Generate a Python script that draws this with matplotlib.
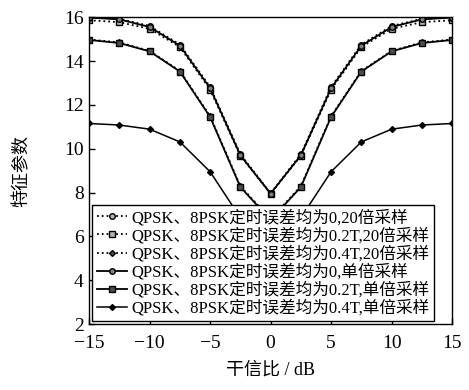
import matplotlib
matplotlib.use('Agg')
from matplotlib import pyplot as plt

plt.rcParams['font.family'] = ['Liberation Serif', 'Noto Sans CJK SC']
plt.rcParams['axes.unicode_minus'] = True

jsr = [-15, -12.5, -10, -7.5, -5, -2.5, 0, 2.5, 5, 7.5, 10, 12.5, 15]

# 20倍采样
e0_20 = [16.0, 15.92, 15.6, 14.75, 12.82, 9.75, 7.97, 9.75, 12.82, 14.75, 15.6, 15.92, 16.0]
e02_20 = [15.86, 15.77, 15.47, 14.64, 12.70, 9.68, 7.95, 9.68, 12.70, 14.64, 15.47, 15.77, 15.86]
e04_20 = [14.98, 14.85, 14.46, 13.55, 11.49, 8.29, 6.8, 8.29, 11.49, 13.55, 14.46, 14.85, 14.98]
# 单倍采样
e0_1 = [15.98, 15.9, 15.55, 14.7, 12.76, 9.7, 7.95, 9.7, 12.76, 14.7, 15.55, 15.9, 15.98]
e02_1 = [14.96, 14.82, 14.44, 13.52, 11.45, 8.25, 6.75, 8.25, 11.45, 13.52, 14.44, 14.82, 14.96]
e04_1 = [11.15, 11.08, 10.89, 10.31, 8.95, 6.85, 5.9, 6.85, 8.95, 10.31, 10.89, 11.08, 11.15]

labels = ['QPSK、8PSK定时误差均为0,20倍采样',
          'QPSK、8PSK定时误差均为0.2T,20倍采样',
          'QPSK、8PSK定时误差均为0.4T,20倍采样',
          'QPSK、8PSK定时误差均为0,单倍采样',
          'QPSK、8PSK定时误差均为0.2T,单倍采样',
          'QPSK、8PSK定时误差均为0.4T,单倍采样']

fig = plt.figure(figsize=(4.69, 3.90), dpi=100)
ax = fig.add_axes([0.19, 0.169, 0.774, 0.787])

ax.plot(jsr, e0_20, c='k', ls=':', lw=1.3, marker='o', ms=4, mfc='0.7', mec='k', label=labels[0])
ax.plot(jsr, e02_20, c='k', ls=':', lw=1.3, marker='s', ms=4, mfc='0.7', mec='k', label=labels[1])
ax.plot(jsr, e04_20, c='k', ls=':', lw=1.3, marker='D', ms=3, mfc='0.3', mec='k', label=labels[2])
ax.plot(jsr, e0_1, c='k', ls='-', lw=1.3, marker='o', ms=4, mfc='0.5', mec='k', label=labels[3])
ax.plot(jsr, e02_1, c='k', ls='-', lw=1.3, marker='s', ms=4, mfc='0.3', mec='k', label=labels[4])
ax.plot(jsr, e04_1, c='k', ls='-', lw=1.1, marker='D', ms=3, mfc='k', mec='k', label=labels[5])

ax.set_xlim(-15, 15)
ax.set_ylim(2, 16)
ax.set_xticks([-15, -10, -5, 0, 5, 10, 15])
ax.set_yticks([2, 4, 6, 8, 10, 12, 14, 16])
ax.tick_params(direction='in', labelsize=14, length=4, width=1)
ax.tick_params(axis='x', pad=8)
ax.tick_params(axis='y', pad=4)
for s in ax.spines.values():
    s.set_linewidth(1.0)

ax.set_xlabel('干信比 / dB', fontsize=13, labelpad=7)
ax.set_ylabel('特征参数', fontsize=13, labelpad=24)

leg = ax.legend(loc='lower left', bbox_to_anchor=(0.0, 0.0), fontsize=12,
                frameon=True, fancybox=False, edgecolor='k', framealpha=1,
                handlelength=1.8, handletextpad=0.3, labelspacing=0.08,
                borderpad=0.25, borderaxespad=0.2)
leg.get_frame().set_linewidth(1.0)

plt.savefig('out.png', dpi=100)
